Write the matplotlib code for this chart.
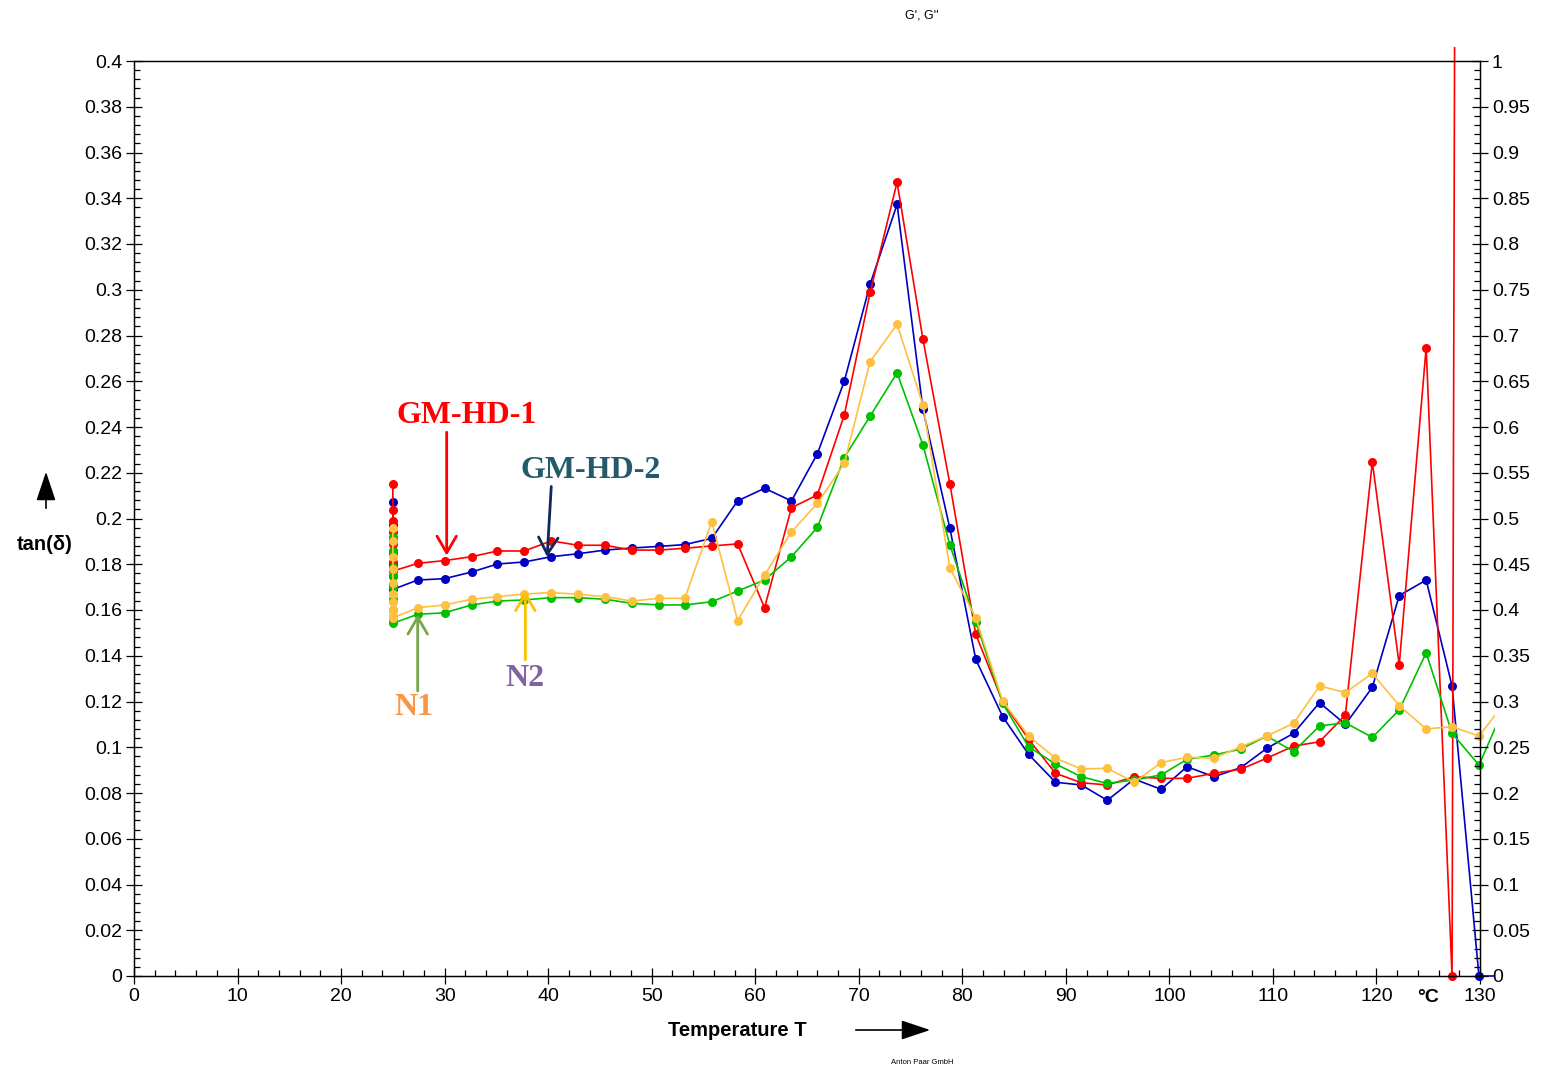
import matplotlib
matplotlib.use("Agg")
import matplotlib.pyplot as plt
from matplotlib.patches import Rectangle, FancyArrowPatch
from matplotlib.ticker import MultipleLocator, FuncFormatter

plt.rcParams["font.family"] = ["Liberation Sans", "DejaVu Sans"]

# isothermal hold at 25 °C (points stacked at the start temperature)
hold_temp = 25.0
red_hold = [0.215, 0.2037, 0.199, 0.194, 0.189, 0.185, 0.181, 0.1785, 0.177]
blue_hold = [0.2073, 0.197, 0.1915, 0.186, 0.180, 0.175, 0.171, 0.169]
green_hold = [0.192, 0.186, 0.179, 0.175, 0.170, 0.165, 0.160, 0.157, 0.155, 0.1542]
yellow_hold = [0.196, 0.190, 0.1833, 0.178, 0.1718, 0.167, 0.1636, 0.160, 0.1575, 0.1565]

# temperature ramp
temps = [27.4, 30.0, 32.6, 35.1, 37.7, 40.3, 42.9, 45.5, 48.1, 50.7,
         53.2, 55.8, 58.3, 60.9, 63.5, 66.0, 68.6, 71.1, 73.7, 76.2,
         78.8, 81.3, 83.9, 86.4, 89.0, 91.5, 94.0, 96.6, 99.2, 101.7,
         104.3, 106.9, 109.4, 112.0, 114.5, 117.0, 119.6, 122.2, 124.8, 127.3,
         129.9, 132.5]

red = [0.1804, 0.1816, 0.1833, 0.1858, 0.1858, 0.1902, 0.1883, 0.1883, 0.1862, 0.1862,
       0.1870, 0.1880, 0.1889, 0.1610, 0.2047, 0.2103, 0.2452, 0.2989, 0.3470, 0.2783,
       0.2151, 0.1494, 0.1199, 0.1035, 0.0886, 0.0845, 0.0835, 0.0871, 0.0864, 0.0864,
       0.0886, 0.0904, 0.0952, 0.1005, 0.1024, 0.1141, 0.2248, 0.1360, 0.2747, 0.0,
       4.3]
blue = [0.1731, 0.1737, 0.1766, 0.1801, 0.1810, 0.1833, 0.1846, 0.1862, 0.1871, 0.1878,
        0.1886, 0.1913, 0.2077, 0.2132, 0.2077, 0.2283, 0.2600, 0.3025, 0.3373, 0.2477,
        0.1957, 0.1384, 0.1134, 0.0969, 0.0847, 0.0835, 0.0768, 0.0861, 0.0816, 0.0915,
        0.0871, 0.0911, 0.0995, 0.1061, 0.1195, 0.1100, 0.1262, 0.1663, 0.1731, 0.1268,
        0.0, 0.0]
green = [0.1581, 0.1588, 0.1622, 0.1639, 0.1644, 0.1654, 0.1654, 0.1647, 0.1629, 0.1622,
         0.1622, 0.1636, 0.1683, 0.1731, 0.1833, 0.1961, 0.2266, 0.2448, 0.2637, 0.2321,
         0.1884, 0.1549, 0.1192, 0.1002, 0.0927, 0.0871, 0.0842, 0.0857, 0.0879, 0.0947,
         0.0966, 0.0992, 0.1049, 0.0981, 0.1093, 0.1107, 0.1043, 0.1163, 0.1413, 0.1061,
         0.0922, 0.1190]
yellow = [0.1610, 0.1622, 0.1647, 0.1658, 0.1670, 0.1676, 0.1669, 0.1658, 0.1639, 0.1651,
          0.1651, 0.1986, 0.1553, 0.1753, 0.1942, 0.2066, 0.2241, 0.2686, 0.2849, 0.2496,
          0.1784, 0.1566, 0.1202, 0.1049, 0.0952, 0.0905, 0.0908, 0.0847, 0.0933, 0.0956,
          0.0952, 0.1002, 0.1049, 0.1105, 0.1268, 0.1239, 0.1323, 0.1182, 0.1080, 0.1090,
          0.1049, 0.1200]

series = [
    (blue_hold, blue, "#0000c0"),
    (red_hold, red, "#ff0000"),
    (green_hold, green, "#00c000"),
    (yellow_hold, yellow, "#ffc040"),
]

W, H = 1543, 1069
fig = plt.figure(figsize=(W / 100, H / 100), dpi=100)
ax = fig.add_axes([134 / W, 1 - 976 / H, (1480 - 134) / W, (976 - 61) / H])

# the instrument software clips a little outside the frame
clip = Rectangle((-0.011, -0.016), 1.022, 1.031, transform=ax.transAxes,
                 fill=False, visible=False)

for hold, ramp, color in series:
    xs = [hold_temp] * len(hold) + temps[:len(ramp)]
    ys = hold + ramp
    line, = ax.plot(xs, ys, "-o", color=color, lw=1.2, ms=6.5, mec="none")
    line.set_clip_path(clip)

ax.set_xlim(0, 130)
ax.set_ylim(0, 0.4)
fmt = FuncFormatter(lambda v, p: f"{round(v, 4):g}")
ax.xaxis.set_major_locator(MultipleLocator(10))
ax.xaxis.set_minor_locator(MultipleLocator(2))
ax.yaxis.set_major_locator(MultipleLocator(0.02))
ax.yaxis.set_minor_locator(MultipleLocator(0.004))
ax.yaxis.set_major_formatter(fmt)
ax.tick_params(which="major", direction="inout", length=11, width=0.9, labelsize=14, pad=3)
ax.tick_params(which="minor", direction="in", length=4, width=0.9)
ax.tick_params(top=False, right=False, which="both")

ax2 = ax.twinx()
ax2.set_ylim(0, 1)
ax2.yaxis.set_major_locator(MultipleLocator(0.05))
ax2.yaxis.set_minor_locator(MultipleLocator(0.01))
ax2.yaxis.set_major_formatter(fmt)
ax2.tick_params(which="major", direction="inout", length=11, width=0.9, labelsize=14, pad=3)
ax2.tick_params(which="minor", direction="in", length=4, width=0.9)

for a in (ax, ax2):
    for s in a.spines.values():
        s.set_linewidth(0.9)

# unit label sits between the 120 and 130 tick labels
ax.text(125, -0.0055, "°C", ha="center", va="top", fontsize=14, fontweight="bold")

# axis titles with arrows
fig.text(737 / W, 1 - 1030 / H, "Temperature T", ha="center", va="center",
         fontsize=14.5, fontweight="bold")
fig.add_artist(FancyArrowPatch(
    (853 / W, 1 - 1030 / H), (933 / W, 1 - 1030 / H), transform=fig.transFigure,
    arrowstyle="-|>,head_length=0.9,head_width=0.3", mutation_scale=20, lw=1.2, color="black"))
fig.text(45 / W, 1 - 545 / H, "tan(δ)", ha="center", va="center",
         fontsize=14.5, fontweight="bold")
fig.add_artist(FancyArrowPatch(
    (46 / W, 1 - 511 / H), (46 / W, 1 - 469 / H), transform=fig.transFigure,
    arrowstyle="-|>,head_length=0.9,head_width=0.3", mutation_scale=20, lw=1.2, color="black"))

fig.text(922 / W, 1 - 16 / H, "G', G''", ha="center", va="center", fontsize=9)
fig.text(922 / W, 1 - 1062 / H, "Anton Paar GmbH", ha="center", va="center", fontsize=5.5)

# sample labels and pointers
serif = ["Liberation Serif", "DejaVu Serif"]
labels = [
    ("GM-HD-1", 32.1, 0.2450, "#ff0000"),
    ("GM-HD-2", 44.1, 0.2212, "#245b6a"),
    ("N2", 37.8, 0.1300, "#8064a2"),
    ("N1", 27.0, 0.1174, "#f79646"),
]
for txt, x, y, c in labels:
    ax.text(x, y, txt, ha="center", va="center", fontsize=23, fontweight="bold",
            family=serif, color=c)

pointers = [
    ((30.2, 0.2377), (30.2, 0.1838), "#ff0000"),
    ((40.3, 0.2140), (39.9, 0.1832), "#10285a"),
    ((27.4, 0.1246), (27.4, 0.1580), "#77a648"),
    ((37.8, 0.1382), (37.8, 0.1682), "#ffc000"),
]
for start, end, c in pointers:
    ax.annotate("", xy=end, xytext=start,
                arrowprops=dict(arrowstyle="->,head_length=0.6,head_width=0.35",
                                mutation_scale=20, lw=2, color=c,
                                shrinkA=0, shrinkB=0))

fig.savefig("out.png", dpi=100)
